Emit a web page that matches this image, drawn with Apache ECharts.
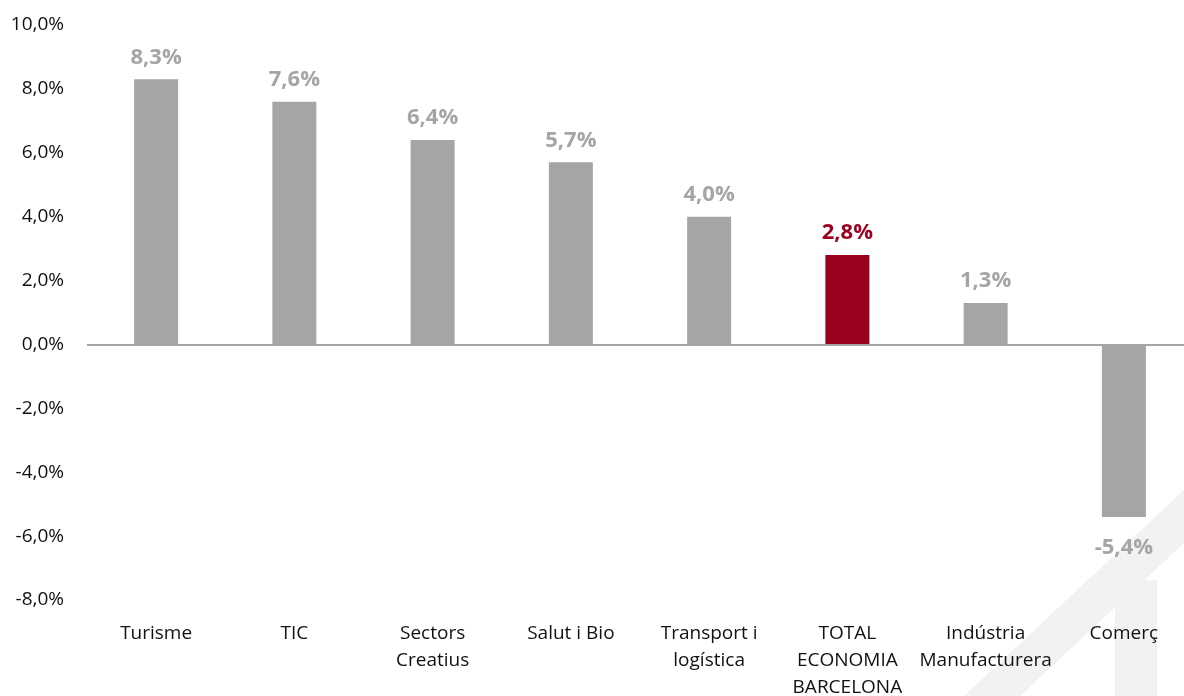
<!DOCTYPE html>
<html>
<head>
<meta charset="utf-8">
<script src="https://cdn.jsdelivr.net/npm/echarts@6/dist/echarts.min.js"></script>
<style>
  html, body { margin: 0; padding: 0; background: #fff; }
  #chart { width: 1184px; height: 696px; }
</style>
</head>
<body>
<div id="chart"></div>
<script>
// sectors and growth (%)
var categories = ['Turisme', 'TIC', 'Sectors\nCreatius', 'Salut i Bio', 'Transport i\nlogística',
  'TOTAL\nECONOMIA\nBARCELONA', 'Indústria\nManufacturera', 'Comerç']
var values = [8.3, 7.6, 6.4, 5.7, 4.0, 2.8, 1.3, -5.4]
var highlight = 'TOTAL\nECONOMIA\nBARCELONA'

var GREY = '#a5a5a5'
var RED = '#9c001f'
var FONT = '"Open Sans", "Noto Sans", sans-serif'

function pct (v) {
  return v.toFixed(1).replace('.', ',') + '%'
}

var barData = values.map(function (v, i) {
  var hot = categories[i] === highlight
  return {
    value: v,
    itemStyle: { color: hot ? RED : GREY },
    label: {
      position: v < 0 ? 'bottom' : 'top',
      distance: v < 0 ? 20 : 11,
      color: hot ? RED : GREY
    }
  }
})

var chart = echarts.init(document.getElementById('chart'))
chart.setOption({
  animation: false,
  backgroundColor: '#fff',
  graphic: [
    {
      type: 'polygon',
      z: -10,
      silent: true,
      shape: { points: [[964, 696], [1184, 490], [1184, 543], [1020, 696]] },
      style: { fill: '#f2f2f2' }
    },
    {
      type: 'rect',
      z: -10,
      silent: true,
      shape: { x: 1115, y: 580, width: 42, height: 116 },
      style: { fill: '#f2f2f2' }
    }
  ],
  grid: { left: 87, right: -9, top: 25, bottom: 96, outerBoundsMode: 'none' },
  xAxis: {
    type: 'category',
    data: categories,
    axisLine: { show: false, onZero: false },
    axisTick: { show: false },
    axisLabel: {
      color: '#111',
      fontFamily: FONT,
      fontSize: 19,
      lineHeight: 27,
      margin: 20,
      interval: 0
    }
  },
  yAxis: {
    type: 'value',
    min: -8,
    max: 10,
    interval: 2,
    axisLine: { show: false },
    axisTick: { show: false },
    splitLine: { show: false },
    axisLabel: {
      color: '#111',
      fontFamily: FONT,
      fontSize: 19,
      margin: 23,
      formatter: pct
    }
  },
  series: [
    {
      type: 'bar',
      data: barData,
      barWidth: 44,
      label: {
        show: true,
        fontFamily: FONT,
        fontSize: 22,
        fontWeight: 'bold',
        formatter: function (p) { return pct(p.value) }
      },
      markLine: {
        silent: true,
        symbol: 'none',
        label: { show: false },
        lineStyle: { color: '#a6a6a6', width: 2, type: 'solid' },
        data: [{ yAxis: 0 }]
      }
    }
  ]
})
</script>
</body>
</html>
